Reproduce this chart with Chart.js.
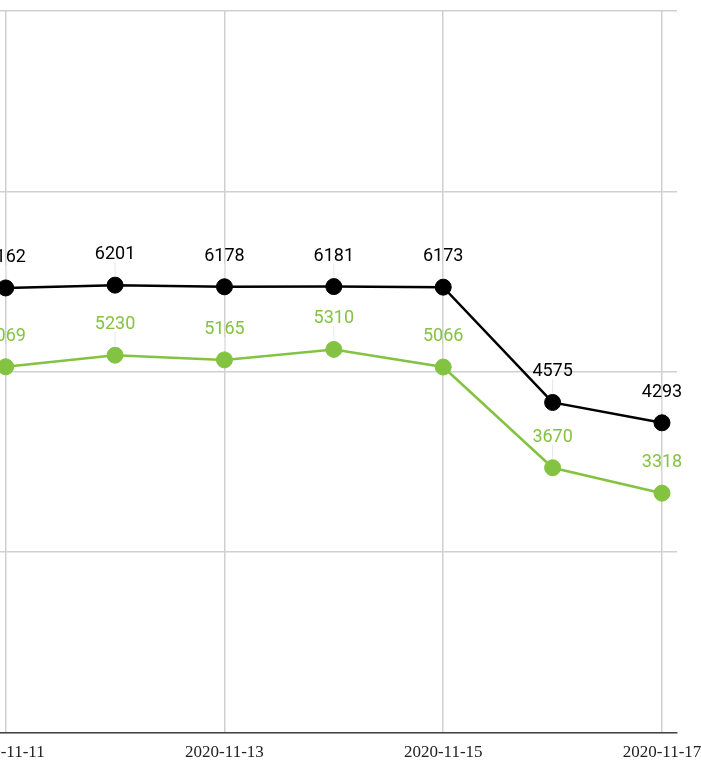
<!DOCTYPE html>
<html>
<head>
<meta charset="utf-8">
<script src="https://cdn.jsdelivr.net/npm/chart.js@4/dist/chart.umd.min.js"></script>
<style>
  html, body { margin: 0; padding: 0; background: #fff; overflow: hidden; }
  #caixa { position: absolute; left: -43px; top: 0; width: 754px; height: 765px; }
</style>
</head>
<body>
<div id="caixa"><canvas id="grafico"></canvas></div>
<script>
const datas = ['2020-11-11', '2020-11-12', '2020-11-13', '2020-11-14', '2020-11-15', '2020-11-16', '2020-11-17'];
const serieTotal = [6162, 6201, 6178, 6181, 6173, 4575, 4293];
const serieVerde = [5069, 5230, 5165, 5310, 5066, 3670, 3318];
const yMax = 10000;
const yPasso = 2500;

const corPreta = '#000000';
const corVerde = '#84c341';

// rótulos de valor acima de cada ponto, com um fio claro até o ponto
const rotulos = {
  id: 'rotulos',
  afterDatasetsDraw(chart) {
    const ctx = chart.ctx;
    ctx.save();
    chart.data.datasets.forEach((ds, i) => {
      const meta = chart.getDatasetMeta(i);
      meta.data.forEach((pt, j) => {
        ctx.strokeStyle = '#e6e6e6';
        ctx.lineWidth = 1;
        ctx.beginPath();
        ctx.moveTo(pt.x, pt.y - 23);
        ctx.lineTo(pt.x, pt.y - 9);
        ctx.stroke();
        ctx.fillStyle = ds.borderColor;
        ctx.font = '18px Roboto';
        ctx.textAlign = 'center';
        ctx.textBaseline = 'alphabetic';
        ctx.fillText(String(ds.data[j].y), pt.x, pt.y - 26);
      });
    });
    ctx.restore();
  }
};

new Chart(document.getElementById('grafico'), {
  type: 'line',
  data: {
    datasets: [
      {
        label: 'total',
        data: serieTotal.map((v, i) => ({ x: i, y: v })),
        borderColor: corPreta,
        backgroundColor: corPreta,
        borderWidth: 2.5,
        pointRadius: 8,
        pointBorderWidth: 1,
        tension: 0
      },
      {
        label: 'verde',
        data: serieVerde.map((v, i) => ({ x: i, y: v })),
        borderColor: corVerde,
        backgroundColor: corVerde,
        borderWidth: 2.5,
        pointRadius: 8,
        pointBorderWidth: 1,
        tension: 0
      }
    ]
  },
  options: {
    responsive: true,
    maintainAspectRatio: false,
    animation: false,
    layout: { padding: { left: 0, right: 0, top: 11, bottom: -8 } },
    plugins: {
      legend: { display: false },
      tooltip: { enabled: false }
    },
    scales: {
      x: {
        type: 'linear',
        min: -0.137,
        max: datas.length - 1 + 0.137,
        afterBuildTicks: (scale) => {
          scale.ticks = datas.map((d, i) => ({ value: i })).filter(t => t.value % 2 === 0);
        },
        ticks: {
          padding: 10,
          maxRotation: 0,
          autoSkip: false,
          color: '#222',
          font: { family: 'Liberation Serif', size: 17 },
          callback: (v) => datas[v]
        },
        grid: { color: '#d0d0d0', lineWidth: 1.5, drawTicks: false },
        border: { display: true, color: '#444', width: 1.5 }
      },
      y: {
        min: 0,
        max: yMax,
        ticks: { display: false, stepSize: yPasso },
        grid: { color: '#d0d0d0', lineWidth: 1.5, drawTicks: false },
        border: { display: false }
      }
    }
  },
  plugins: [rotulos]
});
</script>
</body>
</html>
